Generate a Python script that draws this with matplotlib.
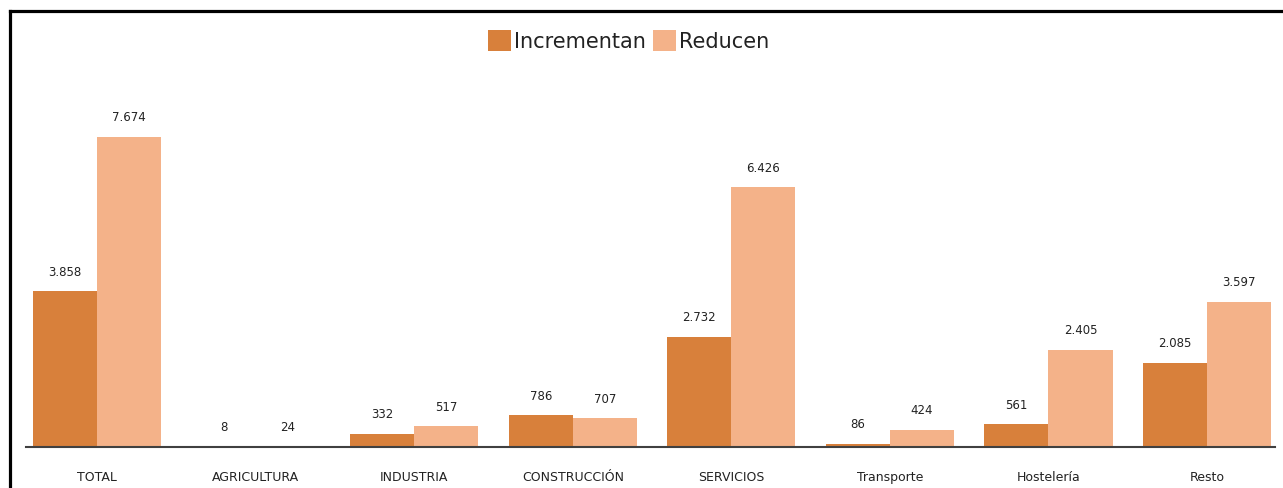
import matplotlib.pyplot as plt
from matplotlib.lines import Line2D
import numpy as np

categories = ["TOTAL", "AGRICULTURA", "INDUSTRIA", "CONSTRUCCIÓN",
              "SERVICIOS", "Transporte", "Hostelería", "Resto"]
incrementan = [3858, 8, 332, 786, 2732, 86, 561, 2085]
reducen = [7674, 24, 517, 707, 6426, 424, 2405, 3597]

c_inc = "#D8803B"
c_red = "#F4B289"


def fmt(v):
    return f"{v:,}".replace(",", ".")


fig = plt.figure(figsize=(12.83, 4.88), dpi=100)
ax = fig.add_axes([0.0203, 0.084, 0.9735, 0.875])

x = np.arange(len(categories))
w = 0.404
b1 = ax.bar(x - w / 2, incrementan, w, color=c_inc, label="Incrementan")
b2 = ax.bar(x + w / 2, reducen, w, color=c_red, label="Reducen")

for bars, vals in ((b1, incrementan), (b2, reducen)):
    for rect, v in zip(bars, vals):
        ax.annotate(fmt(v), (rect.get_x() + rect.get_width() / 2, rect.get_height()),
                    xytext=(0, 9), textcoords="offset points",
                    ha="center", va="bottom", fontsize=8.5, color="#222222")

ax.set_xlim(-0.448, 7.429)
ax.set_ylim(0, 10570)
ax.set_xticks(x)
ax.set_xticklabels(categories, fontsize=9, color="#222222")
ax.tick_params(axis="x", length=0, pad=17)
ax.set_yticks([])
for s in ("top", "right", "left"):
    ax.spines[s].set_visible(False)
ax.spines["bottom"].set_color("#404040")
ax.spines["bottom"].set_linewidth(1.5)

fig.legend(loc="center", bbox_to_anchor=(0.49, 0.916), ncol=2, frameon=False,
           fontsize=15, handlelength=1.1, handleheight=1.2,
           handletextpad=0.15, columnspacing=0.35, labelcolor="#222222")

# outer frame (top and left edges visible)
fig.add_artist(Line2D([10 / 1283, 1], [1 - 11 / 488, 1 - 11 / 488],
                      transform=fig.transFigure, color="black", linewidth=2.3))
fig.add_artist(Line2D([10 / 1283, 10 / 1283], [0, 1 - 11 / 488],
                      transform=fig.transFigure, color="black", linewidth=2.3))

fig.savefig("out.png", dpi=100)
